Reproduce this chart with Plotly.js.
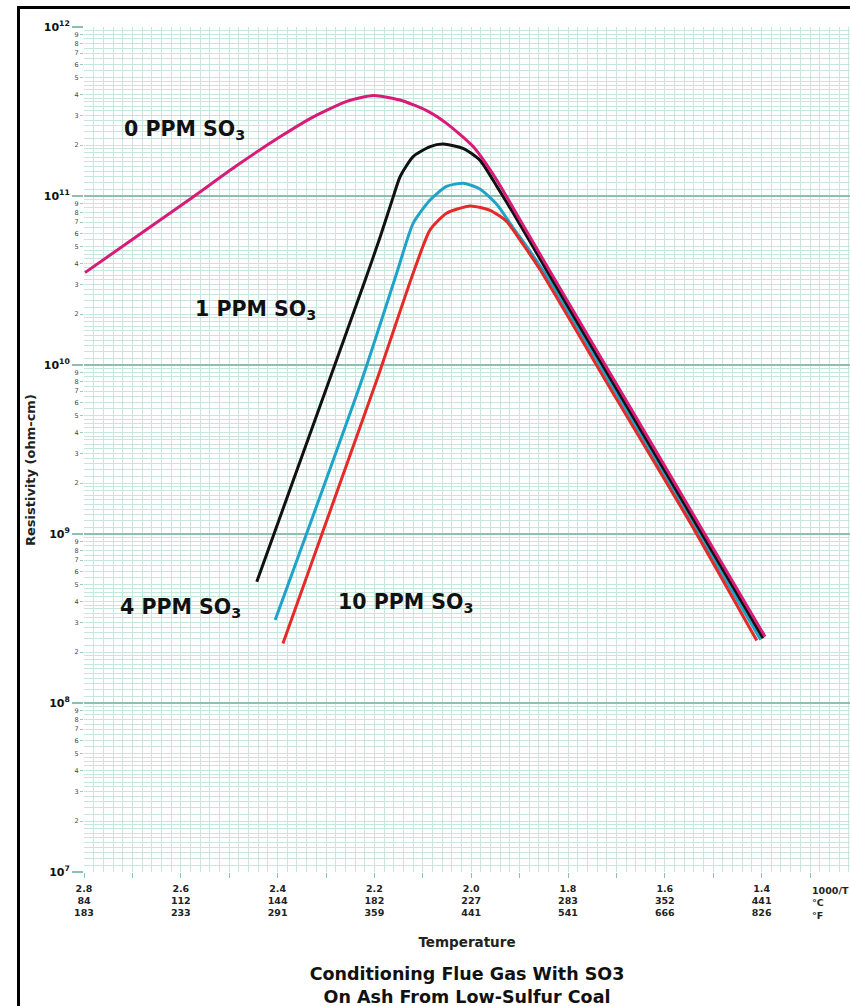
<!DOCTYPE html>
<html><head><meta charset="utf-8">
<script src="https://cdn.plot.ly/plotly-3.0.1.min.js"></script>
<style>
body{margin:0;background:#fff;overflow:hidden}
#wrap{position:relative;width:850px;height:1006px;overflow:hidden}
#chart{width:850px;height:1006px}
#frame{position:absolute;left:17px;top:6px;width:900px;height:1100px;border-left:3px solid #000;border-top:3px solid #000;pointer-events:none}
</style>
</head><body><div id="wrap"><div id="chart"></div><div id="frame"></div></div>
<script>
// ---- data (x = 1000/T, y = resistivity ohm-cm) ----
const x0ppm = [2.798,2.670,2.574,2.485,2.395,2.326,2.257,2.202,2.147,2.092,2.051,1.996,1.947,1.899,1.844,1.70,1.55,1.393];
const r0ppm = [3.52e10,6.35e10,9.91e10,1.51e11,2.24e11,2.94e11,3.63e11,3.93e11,3.70e11,3.20e11,2.69e11,1.96e11,1.24e11,7.21e10,3.87e10,7.71e9,1.44e9,2.47e8];

const x1ppm = [2.443,2.293,2.219,2.188,2.161,2.147,2.120,2.085,2.058,2.016,1.982,1.947,1.913,1.844,1.70,1.55,1.397];
const r1ppm = [5.22e8,8.15e9,3.18e10,5.74e10,9.91e10,1.30e11,1.71e11,1.96e11,2.03e11,1.91e11,1.63e11,1.14e11,7.91e10,3.63e10,7.23e9,1.35e9,2.42e8];

const x4ppm = [2.405,2.226,2.154,2.120,2.085,2.051,2.016,1.982,1.947,1.913,1.879,1.844,1.70,1.55,1.402];
const r4ppm = [3.10e8,8.15e9,3.49e10,6.89e10,9.46e10,1.14e11,1.19e11,1.10e11,8.91e10,6.46e10,4.73e10,3.35e10,6.78e9,1.26e9,2.37e8];

const x10ppm = [2.389,2.195,2.120,2.085,2.051,2.002,1.961,1.927,1.892,1.858,1.70,1.55,1.410];
const r10ppm = [2.25e8,8.15e9,3.49e10,6.30e10,7.91e10,8.73e10,8.22e10,7.08e10,5.13e10,3.67e10,6.31e9,1.20e9,2.34e8];

// ---- tick labels ----
const xLabelVals = [2.8,2.6,2.4,2.2,2.0,1.8,1.6,1.4];
const inverseT = ['2.8','2.6','2.4','2.2','2.0','1.8','1.6','1.4'];
const degC = ['84','112','144','182','227','283','352','441'];
const degF = ['183','233','291','359','441','541','666','826'];
const xTickMarks = [2.8,2.7,2.6,2.5,2.4,2.3,2.2,2.1,2.0,1.9,1.8,1.7,1.6,1.5,1.4,1.3];
const decades = [7,8,9,10,11,12];
const digitLabels = ['2','3','4','5','6','7','8','9'];
const gridMantissas = [1.1,1.2,1.3,1.4,1.5,1.6,1.7,1.8,1.9,2,2.2,2.4,2.6,2.8,3,3.2,3.4,3.6,3.8,4,4.25,4.5,4.75,5,5.5,6,6.5,7,7.5,8,8.5,9,9.5];

const xTickText = xLabelVals.map((v,i)=> inverseT[i]+'<br>'+degC[i]+'<br>'+degF[i]);
const decVals = decades.map(d=>Math.pow(10,d));
const decText = decades.map(d=>'10<sup>'+d+'</sup>');
const minorVals = [], digitVals = [], digitText = [];
decades.slice(0,-1).forEach(d=>{
  gridMantissas.forEach(m=>minorVals.push(m*Math.pow(10,d)));
  digitLabels.forEach(s=>{digitVals.push(Number(s)*Math.pow(10,d)); digitText.push(s);});
});

const FONT = 'DejaVu Sans, Liberation Sans, Arial, sans-serif';
const majorGrid = '#8fbfb0', minorGrid = '#c8e6dc';

function tr(x,y,color,name){
  return {x:x,y:y,name:name,type:'scatter',mode:'lines',
    line:{color:color,width:3,shape:'spline',smoothing:0.6},hoverinfo:'x+y+name'};
}
const data = [
  Object.assign(tr(x10ppm,r10ppm,'#e52a2a','10 PPM SO3'),{xaxis:'x2'}),
  tr(x4ppm,r4ppm,'#1fa3c8','4 PPM SO3'),
  tr(x1ppm,r1ppm,'#111111','1 PPM SO3'),
  Object.assign(tr(x0ppm,r0ppm,'#d81b78','0 PPM SO3'),{yaxis:'y2'})
];

const lblFont = {family:FONT,size:20.5,color:'#111',weight:'bold'};
const tickF = {family:FONT,size:9.5,color:'#222',weight:'bold'};
const layout = {
  width:850,height:1006,
  margin:{l:84,r:0,t:27,b:134},
  paper_bgcolor:'#fff',plot_bgcolor:'#fff',
  showlegend:false,
  font:{family:FONT,color:'#111'},
  title:{text:'Conditioning Flue Gas With SO3<br>On Ash From Low-Sulfur Coal',
    font:{family:FONT,size:17.5,color:'#111',weight:'bold'},
    x:0.5,xref:'paper',y:(1006-980)/1006,yref:'container',yanchor:'middle'},
  xaxis:{range:[2.8,1.2174],tickmode:'array',tickvals:xLabelVals,ticktext:xTickText,
    ticks:'',ticklabelstandoff:9,
    tickfont:tickF,
    showgrid:true,gridcolor:minorGrid,gridwidth:1,zeroline:false,showline:false,
    minor:{dtick:0.02,showgrid:true,gridcolor:minorGrid,gridwidth:1,ticks:''},
    title:{text:'Temperature',font:{family:FONT,size:13.5,color:'#222',weight:'bold'},standoff:20}},
  xaxis2:{range:[2.8,1.2174],overlaying:'x',side:'bottom',anchor:'y',
    tickmode:'array',tickvals:xTickMarks,ticks:'outside',ticklen:5,tickcolor:majorGrid,tickwidth:1,
    showticklabels:false,showgrid:false,zeroline:false,showline:false},
  yaxis:{type:'log',range:[7,12],tickmode:'array',tickvals:decVals,ticktext:decText,
    ticks:'outside',ticklen:11,tickcolor:majorGrid,tickwidth:1.3,
    tickfont:{family:FONT,size:11,color:'#111',weight:'bold'},
    showgrid:true,gridcolor:majorGrid,gridwidth:1.3,zeroline:false,showline:false,
    minor:{tickmode:'array',tickvals:minorVals,showgrid:true,gridcolor:minorGrid,gridwidth:1,ticks:''}},
  yaxis2:{type:'log',range:[7,12],overlaying:'y',side:'left',anchor:'x',
    tickmode:'array',tickvals:digitVals,ticktext:digitText,
    ticks:'outside',ticklen:3,tickcolor:'#9fc9bb',
    tickfont:{family:FONT,size:6.5,color:'#444'},
    showgrid:false,zeroline:false,showline:false},
  annotations:[
    {text:'0 PPM SO<sub>3</sub>',x:2.593,y:11.39,xref:'x',yref:'y',showarrow:false,font:lblFont},
    {text:'1 PPM SO<sub>3</sub>',x:2.445,y:10.325,xref:'x',yref:'y',showarrow:false,font:lblFont},
    {text:'4 PPM SO<sub>3</sub>',x:2.600,y:8.562,xref:'x',yref:'y',showarrow:false,font:lblFont},
    {text:'10 PPM SO<sub>3</sub>',x:2.135,y:8.592,xref:'x',yref:'y',showarrow:false,font:lblFont},
    {text:'1000/T<br>°C<br>°F',x:1.30,xref:'x',xanchor:'left',align:'left',y:0,yref:'paper',yanchor:'top',yshift:-11,
      showarrow:false,font:tickF},
    {text:'Resistivity (ohm-cm)',textangle:-90,x:-0.0705,xref:'paper',xanchor:'center',y:(872-470)/845,yref:'paper',yanchor:'middle',
      showarrow:false,font:{family:FONT,size:13,color:'#222',weight:'bold'}}
  ]
};
Plotly.newPlot('chart',data,layout,{displayModeBar:false,staticPlot:true});
</script></body></html>
